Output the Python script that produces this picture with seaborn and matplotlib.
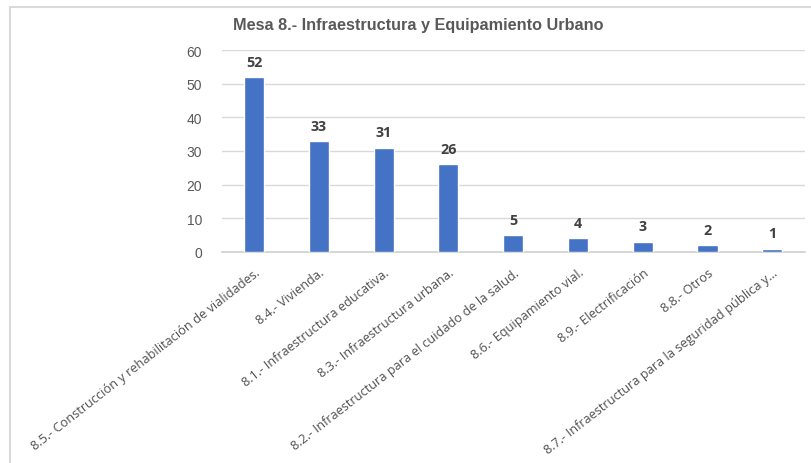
import matplotlib
matplotlib.use("Agg")
import matplotlib.pyplot as plt
import seaborn as sns
import pandas as pd
from matplotlib.patches import Rectangle

# datos
categorias = [
    "8.5.- Construcción y rehabilitación de vialidades.",
    "8.4.- Vivienda.",
    "8.1.- Infraestructura educativa.",
    "8.3.- Infraestructura urbana.",
    "8.2.- Infraestructura para el cuidado de la salud.",
    "8.6.- Equipamiento vial.",
    "8.9.- Electrificación",
    "8.8.- Otros",
    "8.7.- Infraestructura para la seguridad pública y...",
]
valores = [52, 33, 31, 26, 5, 4, 3, 2, 1]
ticks_y = [0, 10, 20, 30, 40, 50, 60]
titulo = "Mesa 8.- Infraestructura y Equipamiento Urbano"

df = pd.DataFrame({"cat": categorias, "val": valores})

sns.set_style("white")
fig = plt.figure(figsize=(8.12, 4.64), dpi=100)
ax = fig.add_axes([0.273, 0.455, 0.718, 0.435])

sns.barplot(data=df, x="cat", y="val", color="#4472C4", saturation=1,
            width=0.31, ax=ax, zorder=3)

ax.set_ylim(0, 60)
ax.set_xlim(-0.5, len(categorias) - 0.5)
ax.set_yticks(ticks_y)
ax.yaxis.grid(True, color="#d9d9d9", lw=1, zorder=0)
ax.set_axisbelow(True)
for s in ["top", "right", "left"]:
    ax.spines[s].set_visible(False)
ax.spines["bottom"].set_color("#d0d0d0")
ax.spines["bottom"].set_linewidth(1.2)
ax.set_xlabel("")
ax.set_ylabel("")

ax.tick_params(axis="y", length=0, pad=14, labelsize=10, labelcolor="#595959")
ax.tick_params(axis="x", length=0, pad=10)
for t in ax.get_yticklabels():
    t.set_fontfamily(["Liberation Sans", "DejaVu Sans"])
ax.set_xticks(range(len(categorias)))
ax.set_xticklabels(categorias, rotation=38, ha="right", rotation_mode="anchor",
                   fontsize=9.2, color="#505050", family=["Open Sans", "DejaVu Sans"])

for i, v in enumerate(valores):
    ax.annotate(str(v), (i, v), xytext=(0, 6), textcoords="offset points",
                ha="center", va="bottom", fontsize=10.3, fontweight="bold",
                color="#404040", family=["Open Sans", "DejaVu Sans"])

fig.text(0.515, 0.945, titulo, ha="center", va="center", fontsize=11.7,
         fontweight="bold", color="#595959",
         family=["Liberation Sans", "DejaVu Sans"])

# marco exterior del gráfico
fig.patches.append(Rectangle((10 / 812, -0.02), 1.0, 1 - 8 / 464 + 0.02,
                             transform=fig.transFigure, fill=False,
                             edgecolor="#d9d9d9", lw=1.5))

fig.savefig("out.png", dpi=100)
